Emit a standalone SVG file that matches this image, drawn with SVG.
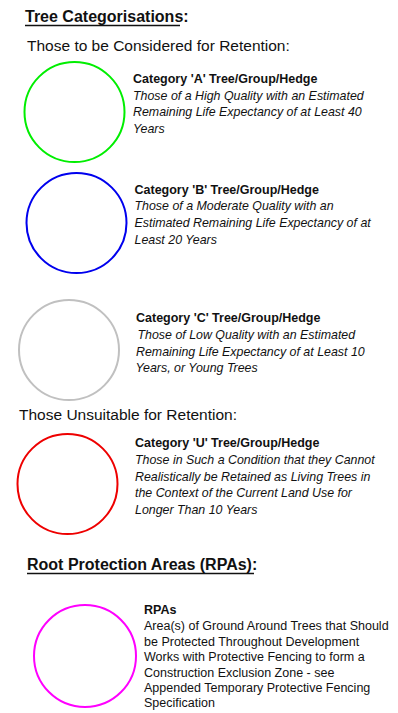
<svg xmlns="http://www.w3.org/2000/svg" width="398" height="713" viewBox="0 0 398 713">
<style>
text{font-family:"Liberation Sans",Arial,sans-serif;fill:#111}
.h{font-size:16px;font-weight:bold}
.s{font-size:15.5px}
.b{font-size:12.5px;font-weight:bold}
.i{font-size:12.4px;font-style:italic}
.r{font-size:12.5px}
circle{fill:none;stroke-width:2}
.ul{stroke:#111;stroke-width:1.3}
</style>
<rect width="398" height="713" fill="#fff"/>
<g id="header1">
<text class="h" x="25" y="22">Tree Categorisations<tspan>:</tspan></text>
<line class="ul" x1="25" y1="25.5" x2="180" y2="25.5"/>
<text class="s" x="27" y="51">Those to be Considered for Retention:</text>
</g>
<g id="catA">
<circle cx="74.5" cy="112" r="50" stroke="#00ee00"/>
<text class="b" x="133" y="82.5">Category 'A' Tree/Group/Hedge</text>
<text class="i" x="133" y="99.5">Those of a High Quality with an Estimated</text>
<text class="i" x="133" y="116">Remaining Life Expectancy of at Least 40</text>
<text class="i" x="133" y="133">Years</text>
</g>
<g id="catB">
<circle cx="76.5" cy="223" r="50" stroke="#0000ee"/>
<text class="b" x="134.5" y="193.5">Category 'B' Tree/Group/Hedge</text>
<text class="i" x="134.5" y="210">Those of a Moderate Quality  with an</text>
<text class="i" x="134.5" y="227">Estimated Remaining Life Expectancy of at</text>
<text class="i" x="134.5" y="244">Least 20 Years</text>
</g>
<g id="catC">
<circle cx="69" cy="350" r="50" stroke="#c0c0c0"/>
<text class="b" x="136" y="322">Category 'C' Tree/Group/Hedge</text>
<text class="i" x="137.5" y="338.5">Those of Low Quality with an Estimated</text>
<text class="i" x="136" y="355.5">Remaining Life Expectancy of at Least 10</text>
<text class="i" x="135.5" y="372">Years, or Young Trees</text>
</g>
<g id="header2">
<text class="s" x="19" y="420">Those Unsuitable for Retention:</text>
</g>
<g id="catU">
<circle cx="67.5" cy="484" r="50" stroke="#ee0000"/>
<text class="b" x="135" y="447">Category 'U' Tree/Group/Hedge</text>
<text class="i" x="135" y="463.5">Those in Such a Condition that they Cannot</text>
<text class="i" x="135" y="480.5">Realistically be Retained as Living Trees in</text>
<text class="i" x="135" y="497">the Context of the Current Land Use for</text>
<text class="i" x="135" y="513.5">Longer Than 10 Years</text>
</g>
<g id="header3">
<text class="h" x="27" y="570">Root Protection Areas (RPAs):</text>
<line class="ul" x1="27" y1="573.5" x2="254" y2="573.5"/>
</g>
<g id="rpa">
<circle cx="85" cy="656" r="51" stroke="#ff00ff"/>
<text class="b" x="144" y="614">RPAs</text>
<text class="r" x="144" y="630">Area(s) of Ground Around Trees that Should</text>
<text class="r" x="144" y="645.5">be Protected Throughout Development</text>
<text class="r" x="144" y="661">Works with Protective Fencing to form a</text>
<text class="r" x="144" y="676.5">Construction Exclusion Zone - see</text>
<text class="r" x="144" y="692">Appended Temporary Protective Fencing</text>
<text class="r" x="144" y="707">Specification</text>
</g>
</svg>
